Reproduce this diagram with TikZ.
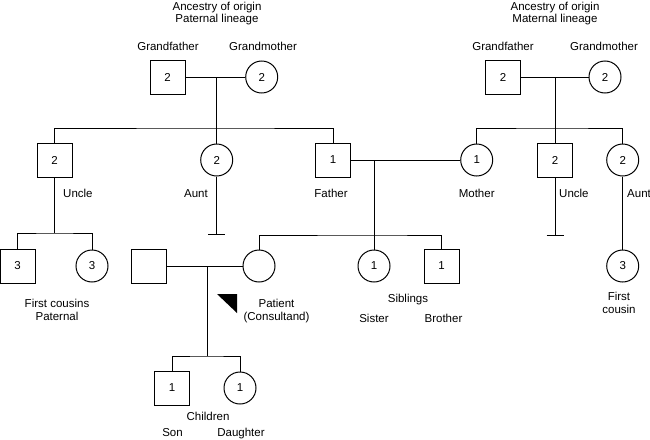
\documentclass[tikz,border=0pt]{standalone}
\usepackage{fontspec}
\setmainfont{Liberation Sans}
\usetikzlibrary{positioning}

\begin{document}
\begin{tikzpicture}[
x=1pt, y=-1pt,
font=\fontsize{11.5}{13}\selectfont,
male/.style={draw, line width=1pt, minimum width=35pt, minimum height=34pt, inner sep=0pt},
female/.style={draw, circle, line width=1pt, minimum size=32pt, inner sep=0pt},
lbl/.style={inner sep=0pt, anchor=base, align=center},
line/.style={line width=1pt}
]
\useasboundingbox (0,0) rectangle (650,439);

% paternal side
\node[male] (pgf) at (167.5,77) {2};
\node[female] (pgm) at (261.7,77) {2};
\node[male] (puncle) at (54.5,160) {2};
\node[female] (paunt) at (216.7,160) {2};
\node[male] (fa) at (333,160) {1};
\node[male] (cs1) at (17.5,266) {3};
\node[female] (cs2) at (92,266) {3};

% maternal side
\node[male] (mgf) at (503,77) {2};
\node[female] (mgm) at (605,77) {2};
\node[female] (mo) at (476.7,160) {1};
\node[male] (muncle) at (555,160) {2};
\node[female] (maunt) at (622.7,160) {2};
\node[female] (mcous) at (622.7,266) {3};

% patient generation
\node[male] (spouse) at (148.5,266) {};
\node[female] (pat) at (259,266) {};
\node[female] (sis) at (374,266) {1};
\node[male] (bro) at (441.5,266) {1};
\node[male] (son) at (172,388) {1};
\node[female] (dau) at (240,388) {1};

\coordinate (pm) at (216.7,77);
\coordinate (psib) at (216.7,128);
\coordinate (paend) at (216.7,234);
\coordinate (csib) at (54.5,233);
\coordinate (mm) at (555,77);
\coordinate (msib) at (555,128);
\coordinate (muend) at (555,235);
\coordinate (fm) at (374,160);
\coordinate (sib) at (374,235);
\coordinate (sm) at (207,266);
\coordinate (chsib) at (207,356);

\draw[line] (pgf) -- (pgm);
\draw[line] (pm) -- (paunt);
\draw[line] (puncle) |- (psib) -| (fa);
\draw[line] (paunt) -- (paend);
\draw[line] ([xshift=-8.5pt]paend) -- ([xshift=8.5pt]paend);
\draw[line] (puncle) -- (csib);
\draw[line] (cs1) |- (csib) -| (cs2);

\draw[line] (mgf) -- (mgm);
\draw[line] (mm) -- (muncle);
\draw[line] (mo) |- (msib) -| (maunt);
\draw[line] (muncle) -- (muend);
\draw[line] ([xshift=-8.5pt]muend) -- ([xshift=8.5pt]muend);
\draw[line] (maunt) -- (mcous);

\draw[line] (fa) -- (mo);
\draw[line] (fm) -- (sis);
\draw[line] (pat) |- (sib) -| (bro);
\draw[line] (spouse) -- (pat);
\draw[line] (sm) -- (chsib);
\draw[line] (son) |- (chsib) -| (dau);

\fill (217,294) -- (237,294) -- (237,313) -- cycle;

% labels
\node[lbl] (ptitle) at (217,23) {Ancestry of origin\\Paternal lineage};
\node[lbl] (mtitle) at (555,23) {Ancestry of origin\\Maternal lineage};
\node[lbl] (pgfl) at (168,50) {Grandfather};
\node[lbl] (pgml) at (263,50) {Grandmother};
\node[lbl] (mgfl) at (503,50) {Grandfather};
\node[lbl] (mgml) at (604,50) {Grandmother};
\node[lbl, anchor=base west] (puncl) at (63,197) {Uncle};
\node[lbl, anchor=base east] (pauntl) at (208,197) {Aunt};
\node[lbl] (fal) at (331,197) {Father};
\node[lbl] (mol) at (476.7,197) {Mother};
\node[lbl, anchor=base west] (muncl) at (559,197) {Uncle};
\node[lbl, anchor=base west] (mauntl) at (627,197) {Aunt};
\node[lbl] (csl) at (57,320) {First cousins\\Paternal};
\node[lbl] (patl) at (276.5,320) {Patient\\(Consultand)};
\node[lbl] (sibl) at (408,302) {Siblings};
\node[lbl] (sisl) at (374,322) {Sister};
\node[lbl] (brol) at (443.5,322) {Brother};
\node[lbl] (mcl) at (619,313) {First\\cousin};
\node[lbl] (chl) at (208,420) {Children};
\node[lbl] (sonl) at (172.5,436.5) {Son};
\node[lbl] (daul) at (241,436.5) {Daughter};
\end{tikzpicture}
\end{document}
